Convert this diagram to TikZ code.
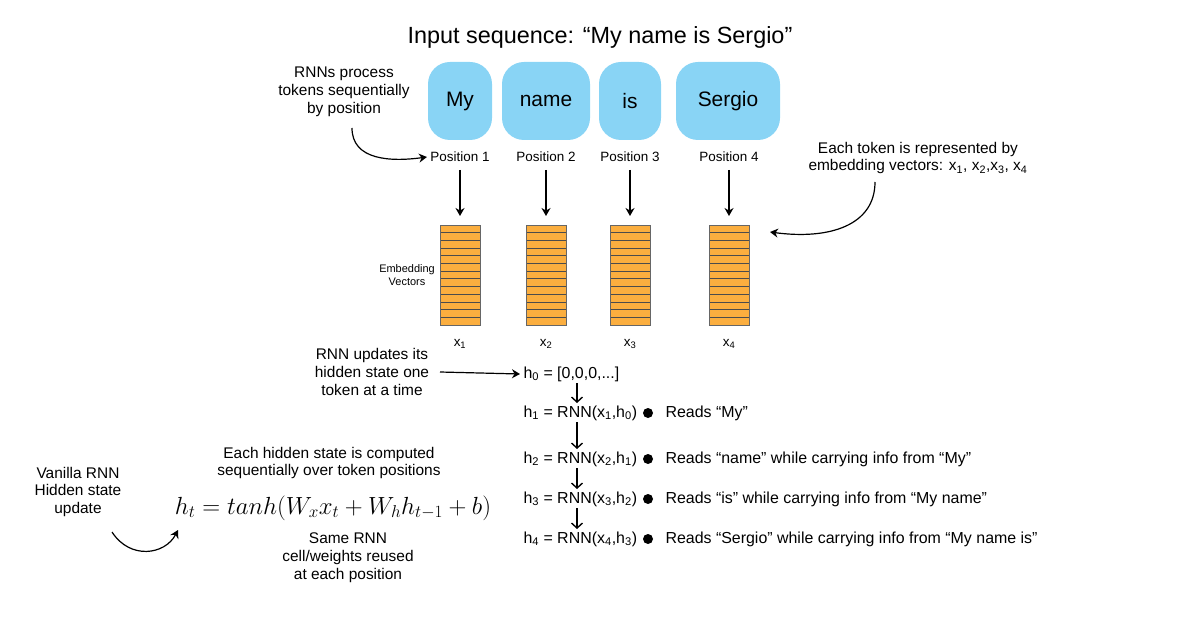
\documentclass[tikz,border=0pt]{standalone}
\usepackage{fontspec}
\setmainfont{Liberation Sans}
\usepackage{amsmath}
\usetikzlibrary{arrows.meta}
\begin{document}
\begin{tikzpicture}[x=1bp,y=-1bp,
  tok/.style={fill=tokblue,rounded corners=22bp,minimum height=78bp,font=\fontsize{21}{24}\selectfont,inner sep=0},
  lab/.style={font=\fontsize{15.5}{18}\selectfont,align=center},
  sm/.style={font=\fontsize{13.5}{15}\selectfont},
  arr/.style={-{Stealth[length=8bp,width=9bp]},line width=1.2bp},
  sarr/.style={-{Straight Barb[length=5bp,width=11bp]},line width=1.4bp},
  eq/.style={font=\fontsize{16}{18}\selectfont,anchor=west}]
\definecolor{tokblue}{HTML}{89D4F5}
\definecolor{emb}{HTML}{FBAE3F}
\useasboundingbox (0,0) rectangle (1200,628);
\node[font=\fontsize{23.5}{26}\selectfont] (title) at (600,37) {Input sequence: “My name is Sergio”};
\node[tok,minimum width=64bp] (t1) at (460,101) {My};
\node[tok,minimum width=88bp] (t2) at (546,101) {name};
\node[tok,minimum width=62bp] (t3) at (630,101) {is};
\node[tok,minimum width=104bp] (t4) at (728,101) {Sergio};
\foreach \i/\x in {1/460,2/546,3/630,4/729}{
  \node[sm] (p\i) at (\x,157) {Position \i};
  \coordinate (top\i) at (\x,216);
  \coordinate (st\i) at (\x,170);
  \fill[emb] (\x-20,225) rectangle (\x+20,325);
  \foreach \k in {0,...,13}{\draw[black!70,thick] (\x-20,225+\k*100/13) -- (\x+20,225+\k*100/13);}
  \draw[black!60,thick] (\x-20,225) rectangle (\x+20,325);
  \node[sm] (x\i) at (\x,344) {x\textsubscript{\i}};
  \draw[arr] (st\i) -- (top\i);
}
\node[lab] (proc) at (344,92) {RNNs process\\tokens sequentially\\by position};
\coordinate (pa) at (352,128);
\draw[arr] (pa) .. controls (352,160) and (390,162) .. (p1.west);
\node[lab,anchor=west] (each) at (805,158) {Each token is represented by\\embedding vectors: x\textsubscript{1}, x\textsubscript{2},x\textsubscript{3}, x\textsubscript{4}};
\coordinate (ea) at (875,182);
\coordinate (eb) at (770,232);
\draw[arr] (ea) .. controls (875,225) and (830,240) .. (eb);
\node[font=\fontsize{11}{13}\selectfont,align=center] (embl) at (407,275) {Embedding\\Vectors};
\node[lab] (upd) at (372,372) {RNN updates its\\hidden state one\\token at a time};
\node[eq] (h0) at (520,374) {h\textsubscript{0} = [0,0,0,...]};
\coordinate (ua) at (440,372);
\draw[arr] (ua) -- (h0.west);
\foreach \i/\y/\p in {1/413/0,2/459/1,3/499/2,4/539/3}{
  \node[eq] (h\i) at (520,\y) {h\textsubscript{\i} = RNN(x\textsubscript{\i},h\textsubscript{\p})};
  \fill (648,\y) circle (5bp);
}
\foreach \i/\y in {0/374,1/413,2/459,3/499,4/539}{
  \coordinate (hb\i) at (577,\y+9);
  \coordinate (ht\i) at (577,\y-10);
}
\foreach \a/\b in {0/1,1/2,2/3,3/4}{\draw[sarr] (hb\a) -- (ht\b);}
\node[eq] (r1) at (662,413) {Reads “My”};
\node[eq] (r2) at (662,459) {Reads “name” while carrying info from “My”};
\node[eq] (r3) at (662,499) {Reads “is” while carrying info from “My name”};
\node[eq] (r4) at (662,539) {Reads “Sergio” while carrying info from “My name is”};
\node[lab] (van) at (78,492) {Vanilla RNN\\Hidden state\\update};
\node[font=\fontsize{26.5}{28}\selectfont] (form) at (333,508) {$h_t = tanh(W_x x_t + W_h h_{t-1} + b)$};
\node[lab] (comp) at (329,463) {Each hidden state is computed\\sequentially over token positions};
\node[lab] (same) at (348,558) {Same RNN\\cell/weights reused\\at each position};
\coordinate (va) at (112,532);
\coordinate (vb) at (178,530);
\draw[arr] (va) .. controls (130,560) and (165,555) .. (vb);
\end{tikzpicture}
\end{document}
